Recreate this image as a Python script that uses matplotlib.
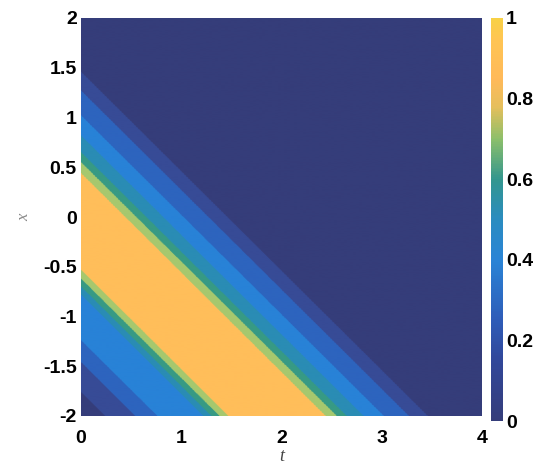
import numpy as np
import matplotlib
matplotlib.use("Agg")
import matplotlib.pyplot as plt
from matplotlib.colors import LinearSegmentedColormap, ListedColormap, BoundaryNorm

# profile u(s), s = x + t
s_knots = [-2.0, -1.76, -1.46, -1.24, -0.78, -0.70, -0.62, -0.53, -0.45,
           0.38, 0.44, 0.55, 0.65, 0.82, 1.02, 1.27, 1.46, 1.50, 6.0]
u_knots = [0.05, 0.10, 0.20, 0.30, 0.40, 0.50, 0.60, 0.70, 1.00,
           1.00, 0.70, 0.60, 0.50, 0.40, 0.30, 0.20, 0.10, 0.00, 0.00]

levels = [0, 0.1, 0.2, 0.3, 0.4, 0.5, 0.6, 0.7, 1.01]
band_colors = ['#353D7A', '#374B96', '#2D64BE', '#2882D7',
               '#2A8CB4', '#379A84', '#A6C86E', '#FFBE5A']

x_ticks = [0, 1, 2, 3, 4]
y_ticks = [-2, -1.5, -1, -0.5, 0, 0.5, 1, 1.5, 2]
y_labels = ['-2', '-1.5', '-1', '-0.5', '0', '0.5', '1', '1.5', '2']
cb_ticks = [0, 0.2, 0.4, 0.6, 0.8, 1]
cb_labels = ['0', '0.2', '0.4', '0.6', '0.8', '1']

# continuous map for the colorbar (scanned parula look)
cb_anchor = [(0.0, '#353D7A'), (0.15, '#31479A'), (0.25, '#2E5CB8'),
             (0.4, '#2A84D6'), (0.5, '#2A8CC0'), (0.6, '#33968E'),
             (0.7, '#8CBF6A'), (0.78, '#E5BF5C'), (0.85, '#FFB95A'),
             (0.95, '#FFC553'), (1.0, '#F8D146')]
cmap = LinearSegmentedColormap.from_list('scan_parula', cb_anchor)

t = np.linspace(0, 4, 801)
x = np.linspace(-2, 2, 801)
T, X = np.meshgrid(t, x)
U = np.interp(X + T, s_knots, u_knots)

plt.rcParams['font.family'] = ['Liberation Sans', 'DejaVu Sans']

fig = plt.figure(figsize=(5.42, 4.70), dpi=100)
ax = fig.add_axes([81/542, 54/470, 401/542, 398/470])
# filled bands, same as contourf but without seams between the levels
ax.imshow(U, origin='lower', extent=[0, 4, -2, 2], aspect='auto',
          cmap=ListedColormap(band_colors), norm=BoundaryNorm(levels, len(band_colors)),
          interpolation='antialiased')
ax.set_xlim(0, 4)
ax.set_ylim(-2, 2)
for sp in ax.spines.values():
    sp.set_visible(False)
ax.set_xticks(x_ticks)
ax.set_xticklabels([str(v) for v in x_ticks])
ax.set_yticks(y_ticks)
ax.set_yticklabels(y_labels)
ax.tick_params(length=0, labelsize=14)
ax.tick_params(axis='x', pad=10)
ax.tick_params(axis='y', pad=3)
for lab in ax.get_xticklabels() + ax.get_yticklabels():
    lab.set_fontweight('bold')
ax.set_xlabel('t', fontsize=13, style='italic', color='#444444',
              family='Liberation Serif', labelpad=1)
ax.set_ylabel('x', fontsize=12, style='italic', color='#888888',
              family='Liberation Serif', rotation=90, labelpad=8)

cax = fig.add_axes([491/542, 49/470, 12/542, 403/470])
sm = plt.cm.ScalarMappable(cmap=cmap, norm=plt.Normalize(0, 1))
cb = fig.colorbar(sm, cax=cax)
cb.outline.set_visible(False)
cb.set_ticks(cb_ticks)
cb.set_ticklabels(cb_labels)
cax.tick_params(length=0, labelsize=14, pad=2)
for lab in cax.get_yticklabels():
    lab.set_fontweight('bold')

fig.savefig('out.png', dpi=100)
